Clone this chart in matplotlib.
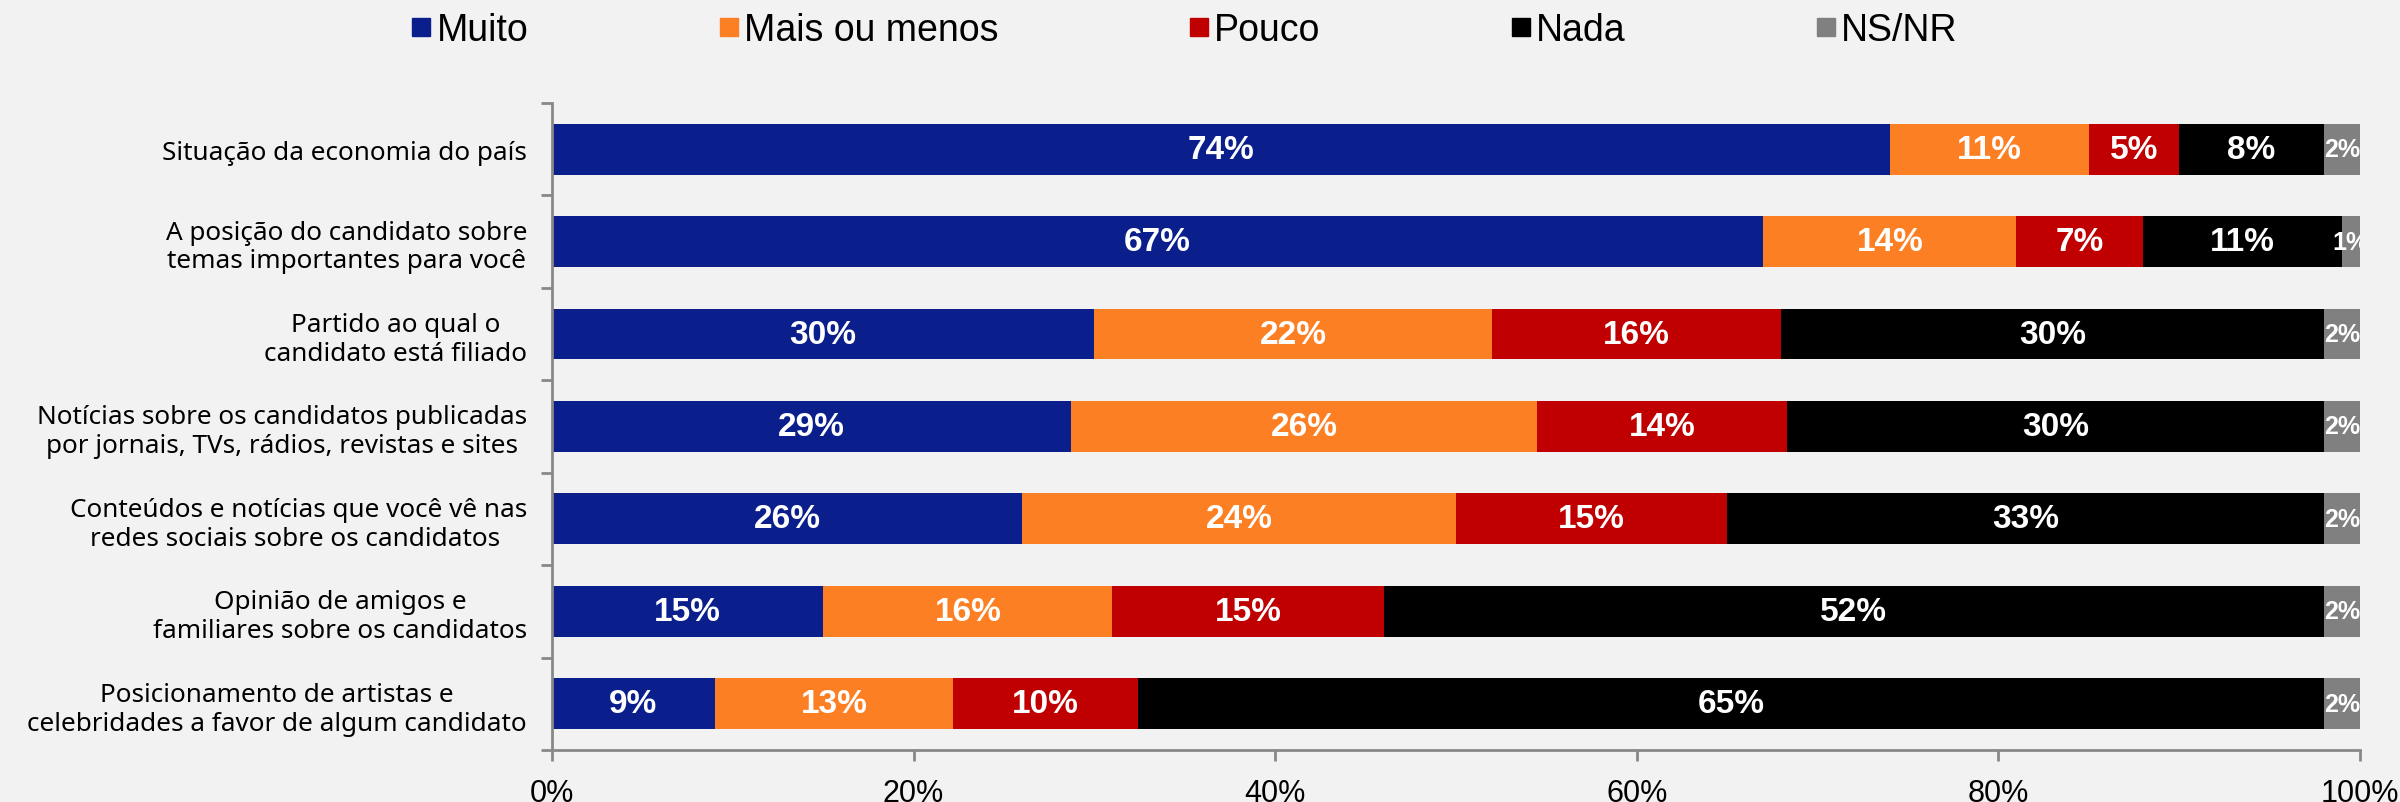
import matplotlib
matplotlib.use("Agg")
from matplotlib import pyplot as plt
from matplotlib.lines import Line2D
import numpy as np

# data
categorias = [
    "Situação da economia do país",
    "A posição do candidato sobre\ntemas importantes para você",
    "Partido ao qual o\ncandidato está filiado",
    "Notícias sobre os candidatos publicadas\npor jornais, TVs, rádios, revistas e sites",
    "Conteúdos e notícias que você vê nas\nredes sociais sobre os candidatos ",
    "Opinião de amigos e\nfamiliares sobre os candidatos",
    "Posicionamento de artistas e\ncelebridades a favor de algum candidato",
]
series = ["Muito", "Mais ou menos", "Pouco", "Nada", "NS/NR"]

muito = [74, 67, 30, 28.7, 26, 15, 9]
mais_ou_menos = [11, 14, 22, 25.8, 24, 16, 13.2]
pouco = [5, 7, 16, 13.8, 15, 15, 10.2]
nada = [8, 11, 30, 29.7, 33, 52, 65.6]
ns_nr = [2, 1, 2, 2, 2, 2, 2]

muito_lbl = ["74%", "67%", "30%", "29%", "26%", "15%", "9%"]
mais_lbl = ["11%", "14%", "22%", "26%", "24%", "16%", "13%"]
pouco_lbl = ["5%", "7%", "16%", "14%", "15%", "15%", "10%"]
nada_lbl = ["8%", "11%", "30%", "30%", "33%", "52%", "65%"]
nsnr_lbl = ["2%", "1%", "2%", "2%", "2%", "2%", "2%"]

cores = ["#0A1E8C", "#FD7F23", "#C00000", "#000000", "#808080"]
fundo = "#F2F2F2"

valores = [muito, mais_ou_menos, pouco, nada, ns_nr]
rotulos = [muito_lbl, mais_lbl, pouco_lbl, nada_lbl, nsnr_lbl]

fig = plt.figure(figsize=(24, 8.03), dpi=100, facecolor=fundo)
ax = fig.add_axes([0.23, 0.0648, 0.7533, 0.8057])
ax.set_facecolor(fundo)

y = np.arange(len(categorias))
esquerda = np.zeros(len(categorias))
for i, (vals, lbls) in enumerate(zip(valores, rotulos)):
    vals = np.array(vals, dtype=float)
    ax.barh(y, vals, left=esquerda, height=0.55, color=cores[i], zorder=2)
    for k in range(len(y)):
        xc = esquerda[k] + vals[k] / 2
        tam = 18 if i == 4 else 24
        ax.text(xc, y[k], lbls[k], ha="center", va="center", color="white",
                fontsize=tam, fontweight="bold", family="Liberation Sans",
                clip_on=True, zorder=3)
    esquerda += vals

ax.set_xlim(0, 100)
ax.set_ylim(len(categorias) - 0.5, -0.5)

ax.set_xticks(np.arange(0, 101, 20))
ax.set_xticklabels([f"{v}%" for v in range(0, 101, 20)],
                   fontsize=22, family="Liberation Sans")
ax.tick_params(axis="x", length=8, width=2, color="#888888", pad=12)

ax.set_yticks(y)
ax.set_yticklabels(categorias, fontsize=18.8, family="Noto Sans",
                   multialignment="center", linespacing=1.2)
ax.tick_params(axis="y", which="major", length=0, pad=18)
ax.set_yticks(np.arange(-0.5, len(categorias)), minor=True)
ax.tick_params(axis="y", which="minor", length=8, width=2, color="#888888")

for lado in ["top", "right"]:
    ax.spines[lado].set_visible(False)
for lado in ["left", "bottom"]:
    ax.spines[lado].set_color("#888888")
    ax.spines[lado].set_linewidth(2)

handles = [Line2D([], [], marker="s", linestyle="none", markersize=13,
                  markerfacecolor=c, markeredgecolor=c) for c in cores]
fig.legend(handles, series, loc="center left", bbox_to_anchor=(0.1717, 0.961),
           ncol=5, frameon=False, borderpad=0, borderaxespad=0,
           handlelength=0.5, handletextpad=0.15, columnspacing=5.1,
           prop={"family": "Liberation Sans", "size": 27})

fig.savefig("out.png", dpi=100, facecolor=fundo)
